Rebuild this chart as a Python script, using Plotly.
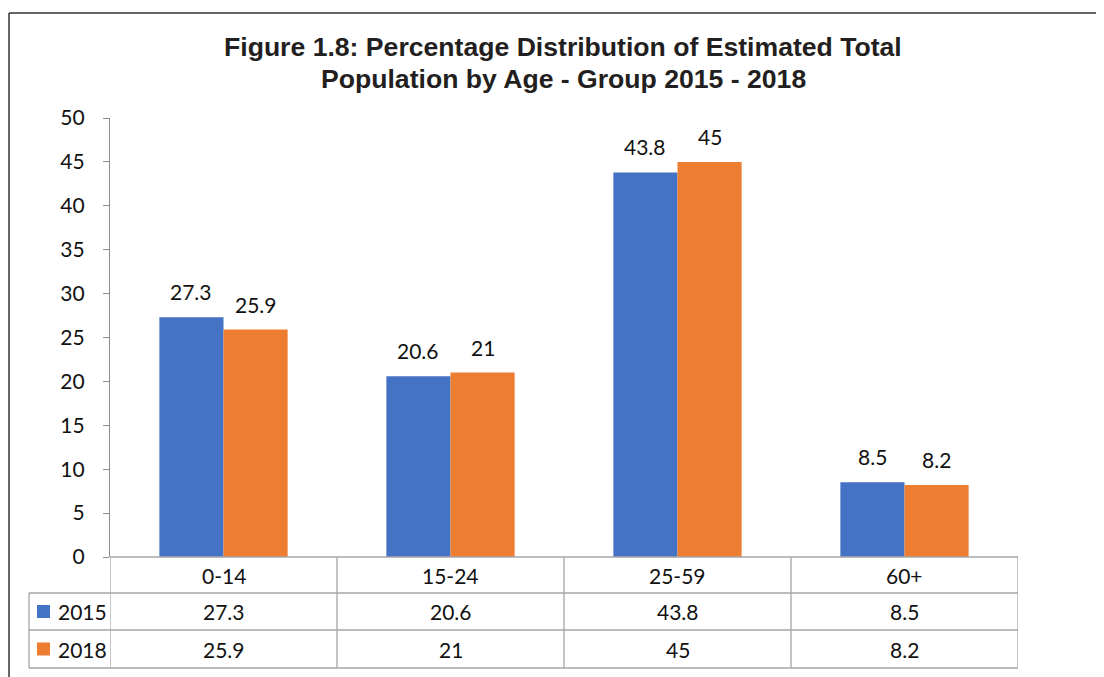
import plotly.graph_objects as go

categories = ["0-14", "15-24", "25-59", "60+"]
series_names = ["2015", "2018"]
values_2015 = [27.3, 20.6, 43.8, 8.5]
values_2018 = [25.9, 21, 45, 8.2]
y_ticks = [0, 5, 10, 15, 20, 25, 30, 35, 40, 45, 50]
colors = ["#4472C4", "#ED7D31"]
title_lines = ["Figure 1.8: Percentage Distribution of Estimated Total",
               "Population by Age - Group 2015 - 2018"]

OFF = 8  # page body offset of the plot div
W, H = 1104, 677
ML = 110 - OFF
MT = 118 - OFF
PW = 1018 - 110
PH = 557 - 118
MR = W - ML - PW
MB = H - MT - PH


def px_x(p):
    return (p - OFF - ML) / PW


def px_y(p):
    return (MT + PH - (p - OFF)) / PH


LABEL_FONT = "Lato, 'Open Sans', sans-serif"
FS = 21
TXT = "#111111"
GRID = "#a6a6a6"

fig = go.Figure()
all_vals = [values_2015, values_2018]
for name, vals, col in zip(series_names, all_vals, colors):
    fig.add_trace(go.Bar(x=categories, y=vals, name=name, marker_color=col,
                         marker_line_width=0, showlegend=False))

annotations = []
shapes = []
# data labels above bars
bar_frac = 0.2825
for si, vals in enumerate(all_vals):
    shift = (-0.5 + si) * PW / len(categories) * bar_frac
    for c, v in zip(categories, vals):
        annotations.append(dict(x=c, y=v, xref="x", yref="y", text=f"{v:g}",
                                showarrow=False, yanchor="bottom", yshift=11,
                                xshift=shift,
                                font=dict(family=LABEL_FONT, size=FS, color=TXT)))

# data table
row_lines = [557, 593, 630, 668]
row_centers = [575, 611.5, 649]
n = len(categories)
shapes.append(dict(type="line", xref="paper", yref="paper", x0=0, x1=1,
                   y0=px_y(row_lines[0]), y1=px_y(row_lines[0]),
                   line=dict(color=GRID, width=1.3)))
for yl in row_lines[1:]:
    shapes.append(dict(type="line", xref="paper", yref="paper", x0=px_x(29), x1=1,
                       y0=px_y(yl), y1=px_y(yl), line=dict(color=GRID, width=1.3)))
for i in range(n + 1):
    shapes.append(dict(type="line", xref="x", yref="paper", x0=i - 0.5, x1=i - 0.5,
                       y0=px_y(row_lines[0]), y1=px_y(row_lines[-1]),
                       line=dict(color=GRID, width=1.3)))
shapes.append(dict(type="line", xref="paper", yref="paper", x0=px_x(29), x1=px_x(29),
                   y0=px_y(row_lines[1]), y1=px_y(row_lines[-1]),
                   line=dict(color=GRID, width=1.3)))
for c in categories:
    annotations.append(dict(x=c, y=px_y(row_centers[0]), xref="x", yref="paper",
                            text=c, showarrow=False, yanchor="middle",
                            font=dict(family=LABEL_FONT, size=FS, color=TXT)))
for si, (name, vals, col) in enumerate(zip(series_names, all_vals, colors)):
    yc = row_centers[si + 1]
    for c, v in zip(categories, vals):
        annotations.append(dict(x=c, y=px_y(yc), xref="x", yref="paper",
                                text=f"{v:g}", showarrow=False, yanchor="middle",
                                font=dict(family=LABEL_FONT, size=FS, color=TXT)))
    shapes.append(dict(type="rect", xref="paper", yref="paper",
                       x0=px_x(37), x1=px_x(50), y0=px_y(yc + 6.5), y1=px_y(yc - 6.5),
                       fillcolor=col, line=dict(width=0)))
    annotations.append(dict(x=px_x(56), y=px_y(yc), xref="paper", yref="paper",
                            text=name, showarrow=False, xanchor="left", yanchor="middle",
                            font=dict(family=LABEL_FONT, size=FS, color=TXT)))

# title (two lines)
for txt, yc in zip(title_lines, [47, 79]):
    annotations.append(dict(x=px_x(563), y=px_y(yc), xref="paper", yref="paper",
                            text=txt, showarrow=False, xanchor="center", yanchor="middle",
                            font=dict(family="'Liberation Sans', Arial, sans-serif",
                                      size=26.6, color="#231f20", weight="bold")))

# outer frame
shapes.append(dict(type="line", xref="paper", yref="paper", x0=px_x(9), x1=px_x(1120),
                   y0=px_y(13), y1=px_y(13), line=dict(color="#333333", width=1.5)))
shapes.append(dict(type="line", xref="paper", yref="paper", x0=px_x(9), x1=px_x(9),
                   y0=px_y(13), y1=px_y(700), line=dict(color="#333333", width=1.5)))

fig.update_layout(
    width=W, height=H,
    margin=dict(l=ML, r=MR, t=MT, b=MB),
    paper_bgcolor="white", plot_bgcolor="white",
    barmode="group", bargap=1 - 2 * bar_frac, bargroupgap=0,
    xaxis=dict(showticklabels=False, showline=False, ticks="", showgrid=False,
               range=[-0.5, n - 0.5], fixedrange=True),
    yaxis=dict(range=[0, 50], tickvals=y_ticks, showgrid=False, zeroline=False,
               showline=True, linecolor="#8c8c8c", linewidth=1.3,
               ticks="outside", ticklen=6, tickcolor="#8c8c8c", tickwidth=1.3,
               ticklabelstandoff=14,
               tickfont=dict(family=LABEL_FONT, size=FS, color=TXT)),
    annotations=annotations, shapes=shapes,
)

fig.write_html("out.html")
